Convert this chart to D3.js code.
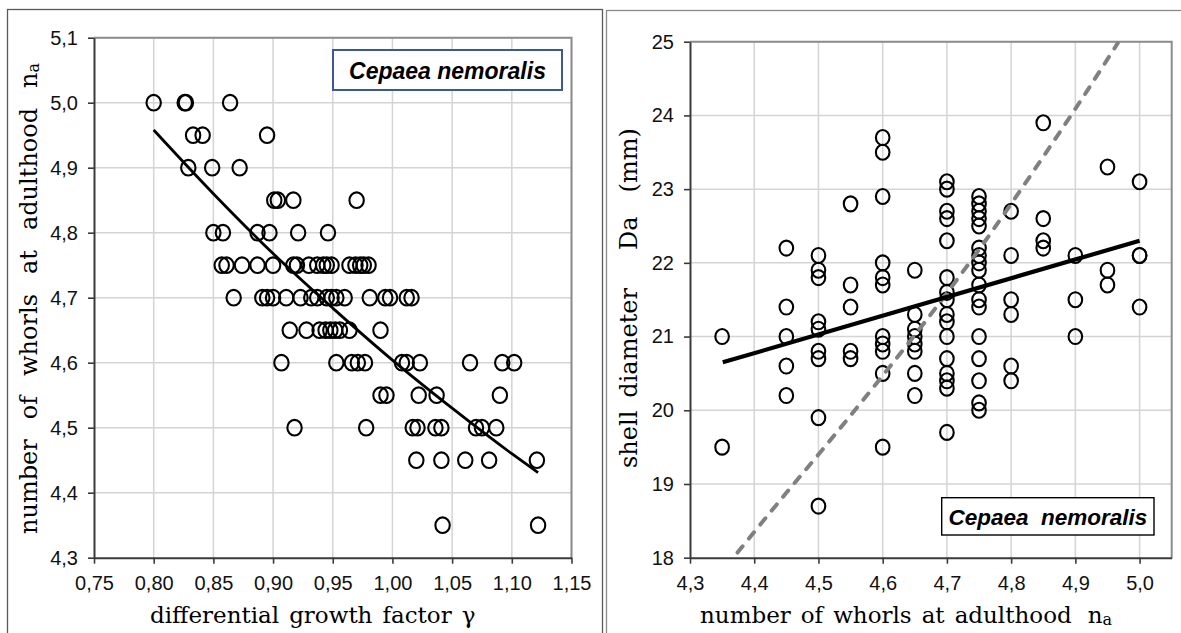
<!DOCTYPE html>
<html>
<head>
<meta charset="utf-8">
<script src="https://cdn.jsdelivr.net/npm/d3@7"></script>
<style>
  html, body { margin: 0; padding: 0; background: #fff; }
  svg { display: block; }
</style>
</head>
<body>
<svg id="fig" width="1181" height="633"></svg>
<script>
// ---------- Left panel: whorls at adulthood vs. differential growth factor ----------
const whorlLevelsA = [5.0, 4.95, 4.9, 4.85, 4.8, 4.75, 4.7, 4.65, 4.6, 4.55, 4.5, 4.45, 4.35];
const gammaAtLevel = [
  [0.800, 0.826, 0.827, 0.864],
  [0.833, 0.841, 0.895],
  [0.829, 0.849, 0.872],
  [0.901, 0.904, 0.917, 0.970],
  [0.850, 0.858, 0.887, 0.897, 0.921, 0.946],
  [0.857, 0.861, 0.874, 0.887, 0.900, 0.917, 0.920, 0.930, 0.937, 0.942, 0.945, 0.949, 0.964, 0.969, 0.973, 0.976, 0.980],
  [0.867, 0.891, 0.895, 0.900, 0.911, 0.923, 0.932, 0.937, 0.945, 0.949, 0.953, 0.960, 0.981, 0.994, 0.998, 1.012, 1.016],
  [0.914, 0.928, 0.939, 0.944, 0.948, 0.952, 0.956, 0.964, 0.990],
  [0.907, 0.953, 0.966, 0.971, 0.977, 1.008, 1.012, 1.023, 1.065, 1.092, 1.102],
  [0.990, 0.995, 1.022, 1.037, 1.090],
  [0.918, 0.978, 1.017, 1.021, 1.036, 1.041, 1.070, 1.075, 1.087],
  [1.020, 1.041, 1.061, 1.081, 1.121],
  [1.042, 1.122]
];
// trend curve through the cloud
const trendGamma  = [0.800, 0.850, 0.900, 0.950, 1.000, 1.050, 1.100, 1.122];
const trendWhorls = [4.958, 4.860, 4.768, 4.684, 4.604, 4.530, 4.460, 4.431];
const gammaTicks  = [0.75, 0.80, 0.85, 0.90, 0.95, 1.00, 1.05, 1.10, 1.15];
const whorlTicksA = [4.3, 4.4, 4.5, 4.6, 4.7, 4.8, 4.9, 5.0, 5.1];

// ---------- Right panel: shell diameter vs. whorls at adulthood ----------
const whorlColumnsB = [4.35, 4.45, 4.5, 4.55, 4.6, 4.65, 4.7, 4.75, 4.8, 4.85, 4.9, 4.95, 5.0];
const diameterAtColumn = [
  [21.0, 19.5],
  [22.2, 21.4, 21.0, 20.6, 20.2],
  [22.1, 21.9, 21.8, 21.2, 21.1, 20.8, 20.7, 19.9, 18.7],
  [22.8, 21.7, 21.4, 20.8, 20.7],
  [23.7, 23.5, 22.9, 22.0, 21.8, 21.7, 21.0, 20.9, 20.8, 20.5, 19.5],
  [21.9, 21.3, 21.1, 21.0, 20.9, 20.8, 20.5, 20.2],
  [23.1, 23.0, 22.7, 22.6, 22.3, 21.8, 21.6, 21.5, 21.3, 21.2, 21.0, 20.7, 20.5, 20.4, 20.3, 19.7],
  [22.9, 22.8, 22.7, 22.6, 22.5, 22.2, 22.1, 22.0, 21.9, 21.7, 21.5, 21.4, 21.0, 20.7, 20.4, 20.1, 20.0],
  [22.7, 22.1, 21.5, 21.3, 20.6, 20.4],
  [23.9, 22.6, 22.3, 22.2],
  [22.1, 21.5, 21.0],
  [23.3, 21.9, 21.7],
  [23.1, 22.1, 22.1, 21.4]
];
// linear fit (solid) and reference curve (dashed)
const fitWhorls   = [4.351, 5.0];
const fitDiameter = [20.65, 22.30];
const refWhorls   = [4.374, 4.45, 4.50, 4.55, 4.60, 4.65, 4.70, 4.75, 4.80, 4.85, 4.90, 4.966];
const refDiameter = [18.07, 18.88, 19.40, 19.93, 20.47, 21.02, 21.59, 22.18, 22.80, 23.44, 24.09, 24.98];
const whorlTicksB   = [4.3, 4.4, 4.5, 4.6, 4.7, 4.8, 4.9, 5.0];
const diameterTicks = [18, 19, 20, 21, 22, 23, 24, 25];

const svg = d3.select('#fig');
const SANS = '"Liberation Sans", Arial, sans-serif';
const SERIF = '"DejaVu Serif", serif';
const comma = p => d => d.toFixed(p).replace('.', ',');

// outer panel frames
svg.append('rect').attr('x', 7.5).attr('y', 9.5).attr('width', 595).attr('height', 700)
  .attr('fill', 'none').attr('stroke', '#5a5a5a').attr('stroke-width', 1.3);
svg.append('rect').attr('x', 606.5).attr('y', 10.5).attr('width', 600).attr('height', 700)
  .attr('fill', 'none').attr('stroke', '#8a8a8a').attr('stroke-width', 1.3);

function panel(cfg) {
  const g = svg.append('g');
  const x = d3.scaleLinear().domain(cfg.xDomain).range([cfg.left, cfg.right]);
  const y = d3.scaleLinear().domain(cfg.yDomain).range([cfg.bottom, cfg.top]);

  // grid
  g.append('g').selectAll('line').data(cfg.xTicks.slice(1)).join('line')
    .attr('x1', d => x(d)).attr('x2', d => x(d)).attr('y1', cfg.top).attr('y2', cfg.bottom)
    .attr('stroke', '#d4d4d4').attr('stroke-width', 1.5);
  g.append('g').selectAll('line').data(cfg.yTicks.slice(1)).join('line')
    .attr('y1', d => y(d)).attr('y2', d => y(d)).attr('x1', cfg.left).attr('x2', cfg.right)
    .attr('stroke', '#d4d4d4').attr('stroke-width', 1.5);

  // plot-area border (top and right)
  g.append('path')
    .attr('d', `M${cfg.left},${cfg.top}H${cfg.right}V${cfg.bottom}`)
    .attr('fill', 'none').attr('stroke', '#8c8c8c').attr('stroke-width', 2);

  // axes
  const ax = g.append('g').attr('transform', `translate(0,${cfg.bottom})`)
    .call(d3.axisBottom(x).tickValues(cfg.xTicks).tickFormat(comma(cfg.xPrec))
      .tickSize(6).tickSizeOuter(0).tickPadding(12));
  const ay = g.append('g').attr('transform', `translate(${cfg.left},0)`)
    .call(d3.axisLeft(y).tickValues(cfg.yTicks).tickFormat(comma(cfg.yPrec))
      .tickSize(6).tickSizeOuter(0).tickPadding(10));
  [ax, ay].forEach(a => {
    a.select('.domain').attr('stroke', '#3a3a3a').attr('stroke-width', 2);
    a.selectAll('.tick line').attr('stroke', '#3a3a3a').attr('stroke-width', 1.6);
    a.selectAll('.tick text').attr('fill', '#111').style('font-family', SANS).style('font-size', '20px');
  });

  // points
  const pts = [];
  cfg.groups.forEach((vals, i) => vals.forEach(v => pts.push(cfg.pointOf(cfg.keys[i], v))));
  g.append('g').selectAll('ellipse').data(pts).join('ellipse')
    .attr('cx', d => x(d[0])).attr('cy', d => y(d[1]))
    .attr('rx', cfg.rx).attr('ry', cfg.ry)
    .attr('fill', 'none').attr('stroke', '#000').attr('stroke-width', 2.1);

  cfg.lines.forEach(L => {
    const line = d3.line().x(d => x(d[0])).y(d => y(d[1])).curve(d3.curveMonotoneX);
    g.append('path').datum(d3.zip(L.xs, L.ys)).attr('d', line)
      .attr('fill', 'none').attr('stroke', L.color).attr('stroke-width', L.width)
      .attr('stroke-dasharray', L.dash || null).attr('stroke-linecap', L.cap || 'butt');
  });
  return { x, y, g };
}

function title(parts, opts) {
  const t = svg.append('text')
    .attr('transform', `translate(${opts.x},${opts.y}) rotate(${opts.rotate || 0})`)
    .style('font-family', SERIF).style('font-size', opts.size + 'px').attr('fill', '#000');
  parts.forEach((p, i) => {
    const s = t.append('tspan').text(p.t);
    if (i > 0 && !p.sub) s.attr('dx', p.gap != null ? p.gap : opts.gap);
    if (p.sub) s.style('font-size', Math.round(opts.size * 0.68) + 'px').attr('dy', 2);
  });
}

function legend(label, box, opts) {
  svg.append('rect').attr('x', box[0]).attr('y', box[1]).attr('width', box[2]).attr('height', box[3])
    .attr('fill', '#fff').attr('stroke', opts.stroke).attr('stroke-width', opts.width);
  svg.append('text').attr('x', box[0] + box[2] / 2).attr('y', opts.baseline)
    .attr('text-anchor', 'middle').style('white-space', 'pre')
    .style('font-family', SANS).style('font-size', opts.size + 'px')
    .style('font-weight', 'bold').style('font-style', 'italic').attr('fill', '#000')
    .text(label);
}

// left panel
panel({
  left: 94, right: 571.5, top: 37.7, bottom: 557.7,
  xDomain: [0.75, 1.15], yDomain: [4.3, 5.1],
  xTicks: gammaTicks, yTicks: whorlTicksA, xPrec: 2, yPrec: 1,
  keys: whorlLevelsA, groups: gammaAtLevel, pointOf: (k, v) => [v, k],
  rx: 7.2, ry: 7.8,
  lines: [{ xs: trendGamma, ys: trendWhorls, color: '#000', width: 2.8 }]
});
legend('Cepaea nemoralis', [333, 50, 229, 40], { stroke: '#3b5998', width: 2, size: 23, baseline: 79 });
title([{t: 'number'}, {t: 'of'}, {t: 'whorls'}, {t: 'at'}, {t: 'adulthood'}, {t: 'n'}, {t: 'a', sub: true}],
  { x: 37, y: 534, rotate: -90, size: 24, gap: 20 });
title([{t: 'differential'}, {t: 'growth'}, {t: 'factor'}, {t: 'γ'}],
  { x: 150, y: 623, size: 23, gap: 10 });

// right panel
panel({
  left: 690, right: 1171.7, top: 41.7, bottom: 557.7,
  xDomain: [4.3, 5.05], yDomain: [18, 25],
  xTicks: whorlTicksB, yTicks: diameterTicks, xPrec: 1, yPrec: 0,
  keys: whorlColumnsB, groups: diameterAtColumn, pointOf: (k, v) => [k, v],
  rx: 6.8, ry: 7.5,
  lines: [
    { xs: refWhorls, ys: refDiameter, color: '#808080', width: 4, dash: '8,10', cap: 'round' },
    { xs: fitWhorls, ys: fitDiameter, color: '#000', width: 4.2 }
  ]
});
legend('Cepaea  nemoralis', [941.7, 497.7, 212.3, 37.3], { stroke: '#000', width: 1.4, size: 22.5, baseline: 525 });
title([{t: 'shell'}, {t: 'diameter', gap: 13}, {t: 'Da', gap: 38}, {t: '(mm)', gap: 24}],
  { x: 636.7, y: 468, rotate: -90, size: 24 });
title([{t: 'number'}, {t: 'of'}, {t: 'whorls'}, {t: 'at'}, {t: 'adulthood'}, {t: 'n', gap: 16}, {t: 'a', sub: true}],
  { x: 700, y: 623, size: 23, gap: 10 });
</script>
</body>
</html>
